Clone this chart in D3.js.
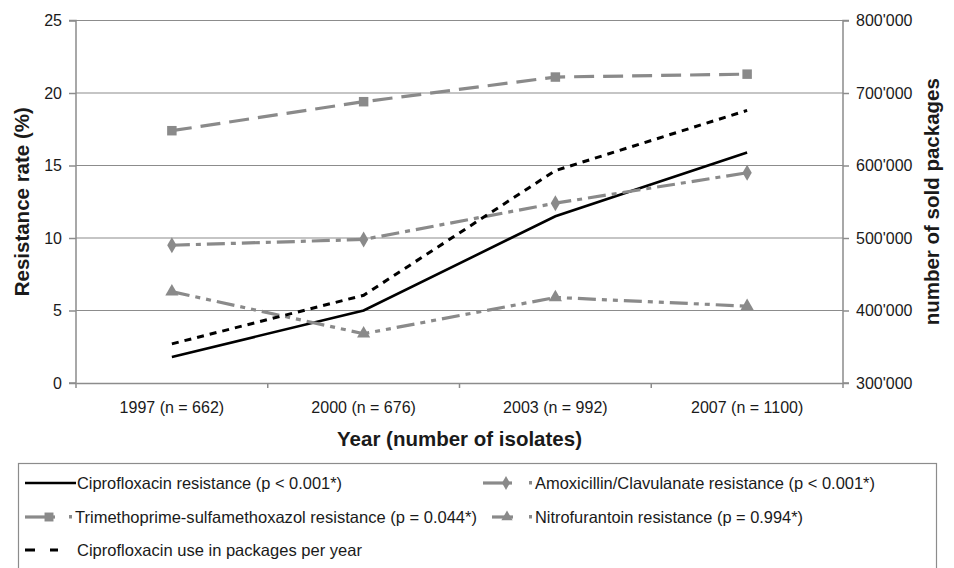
<!DOCTYPE html>
<html>
<head>
<meta charset="utf-8">
<script src="https://cdn.jsdelivr.net/npm/d3@7"></script>
<style>
  body { margin: 0; background: #fff; }
  text { font-family: "Liberation Sans", Arial, sans-serif; }
</style>
</head>
<body>
<svg id="chart" width="954" height="568"></svg>
<script>
// data
var years = ['1997 (n = 662)', '2000 (n = 676)', '2003 (n = 992)', '2007 (n = 1100)'];
var cipro = [1.8, 5.0, 11.5, 15.9];
var amox = [9.5, 9.9, 12.4, 14.5];
var tmpSmx = [17.4, 19.4, 21.1, 21.3];
var nitro = [6.3, 3.4, 5.9, 5.3];
var ciproUse = [354000, 421000, 593000, 676000];
var leftTicks = [0, 5, 10, 15, 20, 25];
var rightTicks = [300000, 400000, 500000, 600000, 700000, 800000];

var svg = d3.select('#chart');
var m = {left: 76, right: 843, top: 20.5, bottom: 383};

var x = d3.scaleBand().domain(years).range([m.left, m.right]);
var y = d3.scaleLinear().domain([0, 25]).range([m.bottom, m.top]);
var y2 = d3.scaleLinear().domain([300000, 800000]).range([m.bottom, m.top]);
var cx = function(d, i) { return x(years[i]) + x.bandwidth() / 2; };

// gridlines
svg.append('g').selectAll('line')
    .data(leftTicks.slice(1))
    .enter().append('line')
    .attr('x1', m.left).attr('x2', m.right)
    .attr('y1', function(d) { return y(d); })
    .attr('y2', function(d) { return y(d); })
    .attr('stroke', '#8c8c8c').attr('stroke-width', 1.2);

var fmt = function(d) { return d3.format(',')(d).replace(/,/g, "'"); };

var axL = svg.append('g').attr('transform', 'translate(' + m.left + ',0)')
    .call(d3.axisLeft(y).tickValues(leftTicks).tickSize(7).tickPadding(7));
var axR = svg.append('g').attr('transform', 'translate(' + m.right + ',0)')
    .call(d3.axisRight(y2).tickValues(rightTicks).tickFormat(fmt).tickSize(6).tickPadding(7));
var axB = svg.append('g').attr('transform', 'translate(0,' + m.bottom + ')')
    .call(d3.axisBottom(x).tickSize(0).tickPadding(19));
// tick marks between categories
axB.selectAll('.sep').data(d3.range(5)).enter().append('line')
    .attr('x1', function(d) { return m.left + d * x.bandwidth(); })
    .attr('x2', function(d) { return m.left + d * x.bandwidth(); })
    .attr('y1', 0).attr('y2', 5).attr('stroke', '#8c8c8c').attr('stroke-width', 1.2);

[axL, axR, axB].forEach(function(a) {
    a.attr('font-size', null).attr('font-family', null);
    a.selectAll('path, line').attr('stroke', '#8c8c8c').attr('stroke-width', 1.5);
    a.selectAll('text').style('font-size', '16px').attr('fill', '#1a1a1a');
});
axR.select('.domain').attr('d', 'M6,' + m.bottom + 'H0V' + m.top + 'H6');
axL.select('.domain').attr('d', 'M-7,' + m.bottom + 'H0V' + m.top + 'H-7');

// axis titles
var midY = (m.top + m.bottom) / 2;
svg.append('text').attr('transform', 'translate(29,' + midY + ') rotate(-90)')
    .attr('text-anchor', 'middle').attr('font-size', 20.5).attr('font-weight', 'bold')
    .attr('fill', '#1a1a1a').text('Resistance rate (%)');
svg.append('text').attr('transform', 'translate(939,' + midY + ') rotate(-90)')
    .attr('text-anchor', 'middle').attr('font-size', 20.5).attr('font-weight', 'bold')
    .attr('fill', '#1a1a1a').text('number of sold packages');
svg.append('text').attr('x', (m.left + m.right) / 2).attr('y', 446)
    .attr('text-anchor', 'middle').attr('font-size', 20.5).attr('font-weight', 'bold')
    .attr('fill', '#1a1a1a').text('Year (number of isolates)');

var grey = '#8a8a8a';
var series = [
    {name: 'Ciprofloxacin resistance (p < 0.001*)', vals: cipro, sc: y, color: '#000', dash: null, w: 2.6, mark: null},
    {name: 'Amoxicillin/Clavulanate resistance (p < 0.001*)', vals: amox, sc: y, color: grey, dash: '18,6,5,6', w: 3.2, mark: 'diamond'},
    {name: 'Trimethoprime-sulfamethoxazol resistance (p = 0.044*)', vals: tmpSmx, sc: y, color: grey, dash: '20,9', w: 3.2, mark: 'square'},
    {name: 'Nitrofurantoin resistance (p = 0.994*)', vals: nitro, sc: y, color: grey, dash: '18,6,5,6,5,6', w: 3.2, mark: 'triangle'},
    {name: 'Ciprofloxacin use in packages per year', vals: ciproUse, sc: y2, color: '#000', dash: '7,6', w: 3, mark: null}
];
var symbols = {diamond: d3.symbolDiamond, square: d3.symbolSquare, triangle: d3.symbolTriangle};

var plot = svg.append('g');
series.forEach(function(s) {
    var line = d3.line().x(cx).y(function(d) { return s.sc(d); });
    plot.append('path').datum(s.vals)
        .attr('d', line).attr('fill', 'none')
        .attr('stroke', s.color).attr('stroke-width', s.w)
        .attr('stroke-dasharray', s.dash);
    if (s.mark) {
        plot.selectAll(null).data(s.vals).enter().append('path')
            .attr('d', d3.symbol().type(symbols[s.mark]).size(s.mark === 'square' ? 90 : 75))
            .attr('transform', function(d, i) { return 'translate(' + cx(d, i) + ',' + s.sc(d) + ')'; })
            .attr('fill', grey);
    }
});

// legend: [sample start, sample end, text x, row y, text width]
var lg = svg.append('g');
lg.append('rect').attr('x', 18.5).attr('y', 463.5).attr('width', 918).attr('height', 120)
    .attr('fill', '#fff').attr('stroke', '#8c8c8c').attr('stroke-width', 1.2);
var legPos = [[25, 76, 77, 483, 265], [483, 512, 535, 483, 340], [25, 55, 75, 517, 402],
              [492, 513, 535, 517, 268], [25, 58, 77, 550, 285]];
series.forEach(function(s, i) {
    var p = legPos[i];
    var g = lg.append('g').attr('transform', 'translate(0,' + p[3] + ')');
    g.append('line').attr('x1', p[0]).attr('x2', p[1]).attr('y1', 0).attr('y2', 0)
        .attr('stroke', s.color).attr('stroke-width', s.w)
        .attr('stroke-dasharray', s.color === '#000' && s.dash ? '10,15' : null);
    if (s.mark) {
        g.append('path')
            .attr('d', d3.symbol().type(symbols[s.mark]).size(s.mark === 'square' ? 80 : 55))
            .attr('transform', 'translate(' + (p[1] - 6) + ',0)')
            .attr('fill', grey);
        g.append('rect').attr('x', p[2] - 6).attr('y', -2).attr('width', 3).attr('height', 3.5).attr('fill', grey);
    }
    g.append('text').attr('x', p[2]).attr('y', 6).attr('font-size', 16.5).attr('fill', '#1a1a1a')
        .attr('textLength', p[4]).attr('lengthAdjust', 'spacingAndGlyphs').text(s.name);
});
</script>
</body>
</html>
